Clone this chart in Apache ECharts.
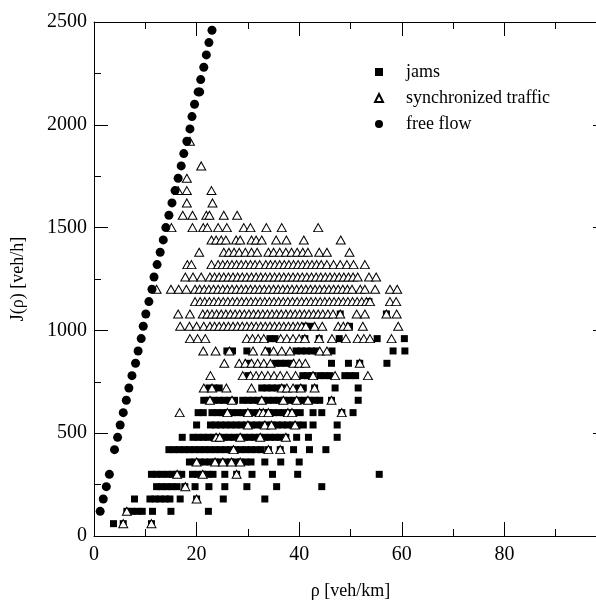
<!DOCTYPE html>
<html lang="en">
  <head>
    <meta charset="UTF-8" />
    <title>J(rho)</title>
    <script src="https://cdn.jsdelivr.net/npm/echarts@6/dist/echarts.min.js"></script>
    <style>
      html, body { margin: 0; padding: 0; background: #fff; }
      #main { width: 596px; height: 601px; }
    </style>
  </head>
  <body>
    <div id="main"></div>
    <script type="text/javascript">
      // free flow: density (veh/km) and flow (veh/h)
      var freeRho = [1.2, 1.8, 2.4, 3.0, 4.0, 4.6, 5.1, 5.7, 6.3, 6.8, 7.4, 8.1, 8.6, 9.2, 9.6, 10.1, 10.7, 11.3, 11.7, 12.3,
        12.9, 13.5, 14.0, 14.6, 15.2, 15.8, 16.4, 17.0, 17.5, 18.1, 18.7, 19.1, 19.6, 20.3, 20.6, 20.8, 21.4, 21.9, 22.4, 23.0];
      var freeJ = [120, 180, 240, 300, 420, 480, 540, 600, 660, 720, 780, 840, 900, 960, 1020, 1080, 1140, 1200, 1260, 1320,
        1380, 1440, 1500, 1560, 1620, 1680, 1740, 1800, 1860, 1920, 1980, 2040, 2100, 2160, 2160, 2220, 2280, 2340, 2400, 2460];

      // jams: [flow, [densities]]
      var jamRows = [
        [60, [3.8, 5.7, 11.2]],
        [120, [6.4, 7.4, 8.4, 9.4, 11.4, 15.0, 22.3]],
        [180, [7.9, 10.9, 11.9, 12.9, 13.9, 14.8, 16.8, 20.0, 25.2, 33.3]],
        [240, [12.2, 13.2, 14.2, 15.2, 16.2, 17.7, 19.7, 22.4, 25.5, 29.8, 35.6, 44.4]],
        [300, [11.2, 12.2, 13.2, 14.3, 15.3, 16.2, 17.1, 19.2, 20.2, 21.2, 22.2, 23.2, 25.5, 27.8, 30.8, 34.8, 39.7, 55.6]],
        [360, [18.6, 19.6, 20.6, 21.6, 22.6, 23.6, 24.6, 25.6, 26.6, 27.6, 28.6, 29.6, 30.6, 33.3, 36.4, 40.0]],
        [420, [14.6, 15.6, 16.6, 17.6, 18.6, 19.6, 20.6, 21.6, 22.6, 23.6, 24.6, 25.6, 26.6, 27.6, 28.6, 29.6, 30.6, 31.6, 32.6,
          34.0, 36.3, 38.9, 42.0, 45.2]],
        [480, [17.2, 19.3, 20.3, 21.3, 22.3, 23.3, 24.3, 25.3, 26.3, 27.3, 28.3, 29.3, 30.3, 31.3, 32.3, 33.3, 34.3, 35.3, 36.3,
          37.4, 39.5, 41.8, 47.4]],
        [540, [20.0, 22.7, 23.7, 24.7, 25.7, 26.7, 27.7, 28.7, 29.7, 30.7, 31.7, 32.7, 33.7, 34.7, 35.7, 36.7, 37.7, 38.7, 39.7,
          40.8, 42.7, 47.4]],
        [600, [20.3, 21.3, 23.0, 24.0, 25.0, 26.0, 27.0, 28.0, 29.0, 30.0, 31.0, 32.0, 33.0, 34.0, 35.0, 36.0, 37.0, 38.0, 39.0,
          40.2, 42.7, 44.4, 48.3, 50.5]],
        [660, [21.4, 22.4, 23.4, 24.4, 25.4, 26.4, 27.4, 29.0, 30.0, 31.0, 32.0, 33.0, 34.0, 35.0, 36.0, 37.0, 38.0, 39.0, 40.0,
          41.0, 42.0, 43.0, 44.0, 46.3, 51.5]],
        [720, [22.4, 23.4, 24.4, 32.7, 33.7, 34.7, 35.7, 36.7, 39.8, 40.8, 43.0, 47.0, 51.5]],
        [780, [30.0, 40.7, 41.6, 42.6, 44.0, 45.0, 46.0, 48.9, 49.9, 51.0]],
        [840, [29.9, 35.4, 36.4, 37.4, 38.4, 46.3, 49.6, 51.8, 57.1]],
        [900, [25.9, 27.0, 29.8, 33.8, 39.4, 40.4, 41.4, 42.4, 43.4, 46.4, 58.3, 60.6]],
        [960, [34.3, 35.3, 41.1, 43.9, 47.8, 55.2, 60.5]],
        [1020, [41.2, 42.2, 49.8]],
        [1080, [48.0, 57.0]],
        [1140, [53.6]]
      ];

      // synchronized traffic: [flow, [densities]]
      var syncRows = [
        [60, [5.7, 11.2]],
        [120, [6.4]],
        [180, [20.0]],
        [240, [17.8]],
        [300, [16.2, 21.2, 27.8]],
        [360, [20.0, 23.6, 25.1, 26.8, 28.5]],
        [420, [27.2, 34.0, 36.3]],
        [480, [23.8, 24.5, 28.5, 32.4, 37.4]],
        [540, [30.0, 33.3, 34.6, 39.2]],
        [600, [16.7, 26.0, 30.0, 32.3, 33.0, 34.0, 37.8, 38.6, 48.3]],
        [660, [22.6, 26.9, 32.7, 36.9, 39.5, 41.7, 46.3]],
        [720, [21.4, 23.0, 25.8, 30.7, 36.6, 37.6, 38.8, 40.3, 43.0]],
        [780, [22.7, 29.0, 30.5, 31.6, 32.7, 33.9, 35.1, 36.3, 37.6, 39.3, 42.7, 47.0, 53.4]],
        [840, [25.4, 28.3, 29.5, 30.7, 31.9, 33.1, 34.4, 38.9, 40.0, 41.2, 51.8]],
        [900, [21.3, 23.7, 26.4, 31.0, 33.4, 35.0, 36.6, 38.2, 44.0, 45.4]],
        [960, [18.7, 20.2, 21.7, 29.8, 30.9, 32.0, 33.1, 36.4, 37.6, 38.8, 40.0, 41.1, 43.9, 46.4, 49.1, 51.4, 52.6, 53.8, 58.0]],
        [1020, [16.8, 18.6, 20.0, 21.4, 22.6, 23.5, 24.4, 25.3, 26.2, 27.1, 28.0, 28.9, 29.8, 30.7, 31.6, 32.5, 33.4, 34.3, 35.2,
          36.1, 37.0, 37.9, 38.8, 39.7, 40.5, 41.3, 43.0, 44.5, 47.6, 48.6, 49.5, 52.4, 59.3]],
        [1080, [16.4, 18.7, 21.2, 22.1, 23.0, 23.9, 24.8, 25.7, 26.6, 27.5, 28.4, 29.3, 30.2, 31.1, 32.0, 32.9, 33.8, 34.7, 35.6,
          36.5, 37.4, 38.3, 39.2, 40.1, 41.0, 41.9, 42.8, 43.7, 44.6, 45.6, 46.6, 48.0, 51.2, 52.8, 57.0, 59.0]],
        [1140, [19.7, 20.7, 21.6, 22.5, 23.4, 24.3, 25.2, 26.1, 27.0, 27.9, 28.8, 29.7, 30.6, 31.5, 32.4, 33.3, 34.2, 35.1, 36.0,
          36.9, 37.8, 38.7, 39.6, 40.5, 41.4, 42.3, 43.2, 44.1, 45.0, 45.9, 46.8, 47.7, 48.6, 49.5, 50.4, 51.3, 52.2, 53.1, 53.8,
          57.7, 58.9]],
        [1200, [12.2, 15.0, 16.5, 18.0, 19.7, 20.6, 21.5, 22.4, 23.3, 24.2, 25.1, 26.0, 26.9, 27.8, 28.7, 29.6, 30.5, 31.4, 32.3,
          33.2, 34.1, 35.0, 35.9, 36.8, 37.7, 38.6, 39.5, 40.4, 41.3, 42.2, 43.1, 44.0, 44.9, 45.8, 46.7, 47.6, 48.5, 49.4, 50.3,
          51.9, 52.8, 54.8, 57.7, 59.1]],
        [1260, [17.8, 19.3, 20.9, 22.6, 23.5, 24.4, 25.3, 26.2, 27.1, 28.0, 28.9, 29.8, 30.7, 31.6, 32.5, 33.4, 34.3, 35.2, 36.1,
          37.0, 37.9, 38.8, 39.7, 40.6, 41.5, 42.4, 43.3, 44.2, 45.1, 46.0, 46.9, 47.8, 48.7, 49.6, 50.5, 51.4, 53.6, 55.0]],
        [1320, [18.2, 19.0, 22.9, 24.2, 25.1, 26.0, 26.9, 27.8, 28.7, 29.6, 30.5, 31.4, 32.3, 33.5, 34.4, 35.3, 36.2, 37.1, 38.0,
          38.9, 39.8, 40.7, 41.6, 42.5, 43.4, 44.3, 45.4, 46.7, 48.0, 49.3, 50.6, 52.8]],
        [1380, [20.5, 25.3, 26.3, 27.3, 28.3, 29.5, 30.7, 31.8, 34.0, 35.0, 36.2, 37.4, 38.5, 39.6, 40.7, 41.7, 43.9, 45.4, 49.8]],
        [1440, [22.9, 23.8, 24.8, 25.7, 27.7, 28.5, 30.7, 31.6, 32.7, 35.5, 37.5, 40.9, 48.1]],
        [1500, [15.1, 19.2, 21.3, 22.1, 24.2, 25.9, 29.2, 30.5, 33.6, 36.6, 43.7]],
        [1560, [17.3, 19.2, 21.9, 22.5, 25.3, 27.9]],
        [1620, [18.1, 23.1]],
        [1680, [16.4, 18.1, 22.9]],
        [1740, [18.1]],
        [1800, [20.9]],
        [1920, [18.7]]
      ];

      var xTickValues = [0, 20, 40, 60, 80, 100];
      var yTickValues = [0, 500, 1000, 1500, 2000, 2500];

      function rowsToPoints(rows) {
        var pts = [];
        rows.forEach(function (r) {
          r[1].forEach(function (x) { pts.push([x, r[0]]); });
        });
        return pts;
      }
      var freeData = freeRho.map(function (x, i) { return [x, freeJ[i]]; });

      var serif = "'Liberation Serif', 'Times New Roman', 'DejaVu Serif', serif";
      function plain(v) { return String(v); }
      function xAx(pos, showLabel) {
        return {
          type: "value", position: pos,
          min: xTickValues[0], max: xTickValues[xTickValues.length - 1], interval: 20,
          axisLine: { show: true, onZero: false, lineStyle: { color: "#000", width: 1 } },
          axisTick: { show: true, inside: true, length: 14, lineStyle: { color: "#000", width: 1 } },
          minorTick: { show: true, splitNumber: 2, length: 7, lineStyle: { color: "#000", width: 1 } },
          splitLine: { show: false },
          axisLabel: { show: showLabel, showMaxLabel: false, margin: 9, formatter: plain,
            color: "#000", fontFamily: serif, fontSize: 20 },
          name: showLabel ? "ρ [veh/km]" : "", nameLocation: "middle", nameGap: 46,
          nameTextStyle: { color: "#000", fontFamily: serif, fontSize: 18 }
        };
      }
      function yAx(pos, showLabel) {
        return {
          type: "value", position: pos,
          min: yTickValues[0], max: yTickValues[yTickValues.length - 1], interval: 500,
          axisLine: { show: true, onZero: false, lineStyle: { color: "#000", width: 1 } },
          axisTick: { show: true, inside: true, length: 14, lineStyle: { color: "#000", width: 1 } },
          minorTick: { show: true, splitNumber: 2, length: 7, lineStyle: { color: "#000", width: 1 } },
          splitLine: { show: false },
          axisLabel: { show: showLabel, margin: 7, formatter: plain,
            color: "#000", fontFamily: serif, fontSize: 20 },
          name: showLabel ? "J(ρ) [veh/h]" : "", nameLocation: "middle", nameGap: 67,
          nameTextStyle: { color: "#000", fontFamily: serif, fontSize: 18 }
        };
      }

      var myChart = echarts.init(document.getElementById("main"), null, { renderer: "canvas" });
      var option = {
        animation: false,
        backgroundColor: "#fff",
        // the frame is wider than the picture: its right edge falls outside it
        grid: { left: 94, top: 22, width: 513, height: 514, containLabel: false, outerBoundsMode: "none" },
        xAxis: [xAx("bottom", true), xAx("top", false)],
        yAxis: [yAx("left", true), yAx("right", false)],
        legend: {
          orient: "vertical", left: 369, top: 58,
          itemWidth: 8, itemHeight: 8, itemGap: 8,
          selectedMode: false,
          textStyle: { color: "#000", fontFamily: serif, fontSize: 18, padding: [0, 0, 0, 18] },
          data: [
            { name: "jams", icon: "rect" },
            { name: "synchronized traffic", icon: "triangle" },
            { name: "free flow", icon: "circle" }
          ]
        },
        series: [
          {
            name: "jams", type: "scatter", symbol: "rect", symbolSize: 7,
            itemStyle: { color: "#000", opacity: 1 }, silent: true,
            data: rowsToPoints(jamRows)
          },
          {
            name: "synchronized traffic", type: "scatter", symbol: "triangle", symbolSize: [9, 8],
            itemStyle: { color: "#fff", borderColor: "#000", borderWidth: 1, opacity: 1 }, silent: true,
            data: rowsToPoints(syncRows)
          },
          {
            name: "free flow", type: "scatter", symbol: "circle", symbolSize: 9,
            itemStyle: { color: "#000", opacity: 1 }, silent: true,
            data: freeData
          }
        ]
      };
      myChart.setOption(option);
    </script>
  </body>
</html>
